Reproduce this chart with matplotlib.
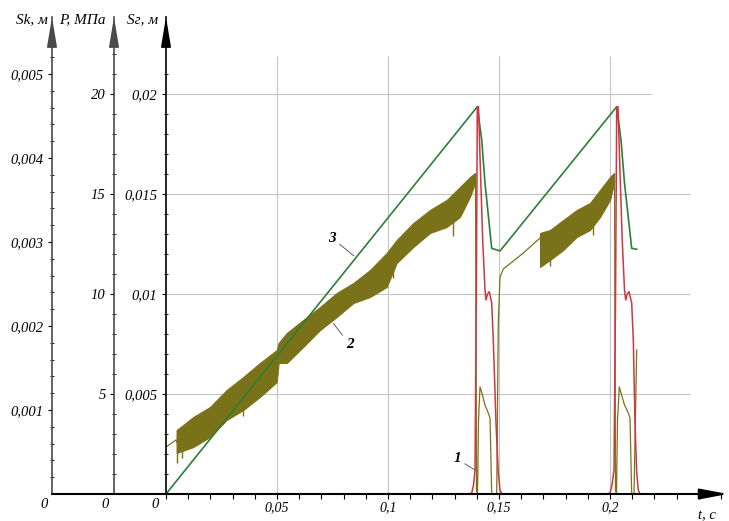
import matplotlib
matplotlib.use('Agg')
import matplotlib.pyplot as plt
from matplotlib.ticker import FixedLocator, MultipleLocator, FuncFormatter

plt.rcParams['font.family'] = ['Liberation Serif', 'DejaVu Serif']
plt.rcParams['font.style'] = 'italic'
plt.rcParams['font.size'] = 10

# ---- data ----
# curve 3 : Sg, m
t3 = [0.0, 0.14023, 0.14221, 0.14369, 0.14671, 0.15045,
      0.20302, 0.20495, 0.20653, 0.20977, 0.21203]
sg3 = [0.0, 0.019365, 0.0177, 0.01555, 0.012285, 0.01215,
       0.019365, 0.0177, 0.01555, 0.012285, 0.012235]

# curve 1 : Sk, m
t1 = [0.0, 0.1360, 0.1377, 0.13851, 0.13919, 0.13978, 0.14023, 0.14077, 0.14144,
      0.14266, 0.14369, 0.14414, 0.14482, 0.14563, 0.14671, 0.14743, 0.14865,
      0.14968, 0.15045, 0.15135, 0.1982, 0.2000, 0.2009, 0.2018, 0.20248,
      0.20302, 0.20360, 0.20428, 0.20550, 0.20653, 0.20707, 0.20775, 0.20856,
      0.20977, 0.21050, 0.21126, 0.21203, 0.21275, 0.21351]
sk1 = [0.0, 0.0, 0.00001, 0.000107, 0.000286, 0.00231, 0.004611, 0.004611, 0.004015,
       0.003024, 0.002429, 0.00231, 0.002381, 0.002408, 0.002274, 0.001833, 0.000845,
       0.00025, 0.000048, 0.0, 0.0, 0.00001, 0.000107, 0.000286, 0.00231,
       0.004611, 0.004611, 0.004015, 0.003024, 0.002429, 0.00231, 0.002381, 0.002408,
       0.002274, 0.001833, 0.000845, 0.00025, 0.000048, 0.0]

# curve 2 : P, MPa  (thin parts)
t2a = [0.0, 0.0045, 0.00482]
p2a = [2.35, 2.7, 2.6]
t2b = [0.13941, 0.13986, 0.14032, 0.14077, 0.14144, 0.14234, 0.14369, 0.14518,
       0.14595, 0.14671, 0.14896, 0.14968, 0.15045, 0.15194, 0.16095, 0.16847]
p2b = [15.95, 0.2, 0.0, 3.7, 5.35, 5.05, 4.45, 4.05,
       3.8, 0.0, 0.0, 8.55, 10.85, 11.25, 12.05, 12.8]
t2c = [0.20203, 0.20248, 0.20293, 0.20338, 0.20419, 0.20495, 0.20653, 0.20824,
       0.20901, 0.20977, 0.21081, 0.21203]
p2c = [15.95, 0.2, 0.0, 3.7, 5.35, 5.05, 4.45, 4.05,
       3.8, 0.0, 0.0, 7.2]

# curve 2 : noisy band envelope, first cycle
band1_t = [0.00482, 0.0123, 0.0198, 0.0273, 0.0348, 0.0423, 0.0499, 0.0507, 0.0544,
           0.0618, 0.0694, 0.0769, 0.0844, 0.0919, 0.0994, 0.1039, 0.1114, 0.1189,
           0.1264, 0.1324, 0.1369, 0.1392]
band1_hi = [3.2, 3.85, 4.35, 5.2, 5.85, 6.55, 7.2, 7.55, 8.05,
            8.7, 9.35, 10.05, 10.55, 11.2, 12.05, 12.7, 13.55, 14.2,
            14.7, 15.35, 15.85, 16.05]
band1_lo = [2.05, 2.35, 2.85, 3.7, 4.2, 4.85, 5.6, 6.55, 6.55,
            7.35, 8.2, 8.85, 9.55, 9.85, 10.35, 11.55, 12.35, 13.05,
            13.35, 13.85, 14.85, 15.55]
# second cycle
band2_t = [0.16847, 0.17297, 0.17896, 0.185, 0.19099, 0.1955, 0.2, 0.2018]
band2_hi = [13.05, 13.2, 13.7, 14.2, 14.55, 15.2, 15.85, 16.05]
band2_lo = [11.35, 11.7, 12.2, 12.85, 13.2, 13.85, 14.7, 15.55]
# deeper single spikes
spike_t = [0.0048, 0.0072, 0.0345, 0.1023, 0.1294, 0.1729, 0.1925]
spike_lo = [1.55, 1.8, 3.9, 10.8, 12.9, 11.4, 12.95]
spike_hi = [3.2, 3.3, 5.8, 12.3, 14.8, 13.2, 14.7]

GREEN = '#2d7f36'
RED = '#d0363f'
OLIVE = '#7a7219'
GRID = '#c4c4c4'

fmt = FuncFormatter(lambda v, p: f'{v:g}'.replace('.', ','))

fig = plt.figure(figsize=(7.29, 5.21), dpi=100)
W, H = 729, 521
x0, y0, x1, y1 = 166, 494, 728, 17
ax = fig.add_axes([x0 / W, (H - y0) / H, (x1 - x0) / W, (y0 - y1) / H])
ax_p = ax.twinx()
ax_k = ax.twinx()
ax_p.set_zorder(1)
ax.set_zorder(2)
ax_k.set_zorder(3)
ax.patch.set_visible(False)

tmax = 0.25315
ax.set_xlim(0, tmax)
ax.set_ylim(0, 0.02385)
ax_p.set_ylim(0, 23.85)
ax_k.set_ylim(0, 0.0056786)

off_p = -52 / (x1 - x0)
off_k = -114 / (x1 - x0)

# spines
for a in (ax, ax_p, ax_k):
    for s in ('top', 'right', 'bottom'):
        a.spines[s].set_visible(False)
    a.yaxis.tick_left()
    a.yaxis.set_label_position('left')
ax.spines['left'].set_color('black')
ax.spines['left'].set_linewidth(1.2)
ax_p.spines['left'].set_position(('axes', off_p))
ax_k.spines['left'].set_position(('axes', off_k))
for a in (ax_p, ax_k):
    a.spines['left'].set_visible(True)
    a.spines['left'].set_color('#4a4a4a')
    a.spines['left'].set_linewidth(1.2)

# ticks
ax.set_xticks([0.05, 0.1, 0.15, 0.2])
ax.xaxis.set_minor_locator(MultipleLocator(0.01))
ax.xaxis.set_major_formatter(fmt)
ax.tick_params(axis='x', which='both', direction='out', length=3.5, width=0.8, pad=1.5)

ax.set_yticks([0.005, 0.01, 0.015, 0.02])
ax.yaxis.set_minor_locator(FixedLocator([i * 0.001 for i in range(1, 22)]))
ax_p.set_yticks([5, 10, 15, 20])
ax_p.yaxis.set_minor_locator(FixedLocator(list(range(1, 23))))
ax_k.set_yticks([0.001, 0.002, 0.003, 0.004, 0.005])
ax_k.yaxis.set_minor_locator(FixedLocator([i * 0.0002 for i in range(1, 27)]))
for a in (ax, ax_p, ax_k):
    a.yaxis.set_major_formatter(fmt)
    a.tick_params(axis='y', which='major', direction='out', length=3, width=0.8, pad=3,
                  labelsize=10.5)
    a.tick_params(axis='y', which='minor', direction='inout', length=3, width=0.6)

# grid (drawn in the lowest axes)
for lev, xe in zip([5, 10, 15, 20], [0.236, 0.236, 0.236, 0.2189]):
    ax_p.hlines(lev, 0, xe, color=GRID, lw=0.8, zorder=0)
ax_p.vlines([0.05, 0.1, 0.15, 0.2], 0, 21.9, color=GRID, lw=0.8, zorder=0)

# curve 2 (olive)
ax_p.fill_between(band1_t, band1_lo, band1_hi, color=OLIVE, lw=0.8, ec=OLIVE)
ax_p.fill_between(band2_t, band2_lo, band2_hi, color=OLIVE, lw=0.8, ec=OLIVE)
ax_p.vlines(spike_t, spike_lo, spike_hi, color=OLIVE, lw=1.0)
ax_p.plot(t2a, p2a, color=OLIVE, lw=0.9)
ax_p.plot(t2b, p2b, color=OLIVE, lw=0.9)
ax_p.plot(t2c, p2c, color=OLIVE, lw=0.9)

# curve 3 (green)
ax.plot(t3, sg3, color=GREEN, lw=1.2)

# curve 1 (red)
ax_k.plot(t1, sk1, color=RED, lw=1.1)

# curve numbers
lead = dict(arrowstyle='-', color='#444444', lw=0.6, shrinkA=1, shrinkB=0)
ax.annotate('3', xy=(0.08469, 0.0119), xytext=(0.07477, 0.0128), ha='center', va='center',
            fontsize=11, fontweight='bold', arrowprops=lead)
ax.annotate('2', xy=(0.07536, 0.008535), xytext=(0.08288, 0.00745), ha='center', va='center',
            fontsize=11, fontweight='bold', arrowprops=lead)
ax.annotate('1', xy=(0.13919, 0.0012), xytext=(0.13108, 0.00175), ha='center', va='center',
            fontsize=11, fontweight='bold', arrowprops=lead)

# axis arrows
head = dict(arrowstyle='-|>,head_length=1.8,head_width=0.3', color='black', lw=1.2,
            shrinkA=0, shrinkB=0, mutation_scale=10)
for xf, c in [(0, 'black'), (off_p, '#4a4a4a'), (off_k, '#4a4a4a')]:
    ax_k.annotate('', xy=(xf, 1.0), xytext=(xf, 1 - 28 / (y0 - y1)),
                  xycoords='axes fraction', textcoords='axes fraction',
                  arrowprops=dict(head, color=c))
ax_k.annotate('', xy=(1.0, 0), xytext=(off_k, 0), xycoords='axes fraction',
              textcoords='axes fraction',
              arrowprops=dict(arrowstyle='-|>,head_length=1.7,head_width=0.32', color='black',
                              lw=1.5, shrinkA=0, shrinkB=0, mutation_scale=10))

# axis titles and zero labels
fig.text(48 / W, 1 - 20 / H, 'Sk, м', ha='right', va='center', fontsize=11)
fig.text(106 / W, 1 - 20 / H, 'P, МПа', ha='right', va='center', fontsize=11)
fig.text(158 / W, 1 - 20 / H, 'Sг, м', ha='right', va='center', fontsize=11)
for xp in (44, 105, 155):
    fig.text(xp / W, 1 - 505 / H, '0', ha='center', va='center', fontsize=10.5)
fig.text(707 / W, 1 - 516 / H, 't, с', ha='center', va='center', fontsize=10.5)

fig.savefig('out.png', dpi=100, facecolor='white')
